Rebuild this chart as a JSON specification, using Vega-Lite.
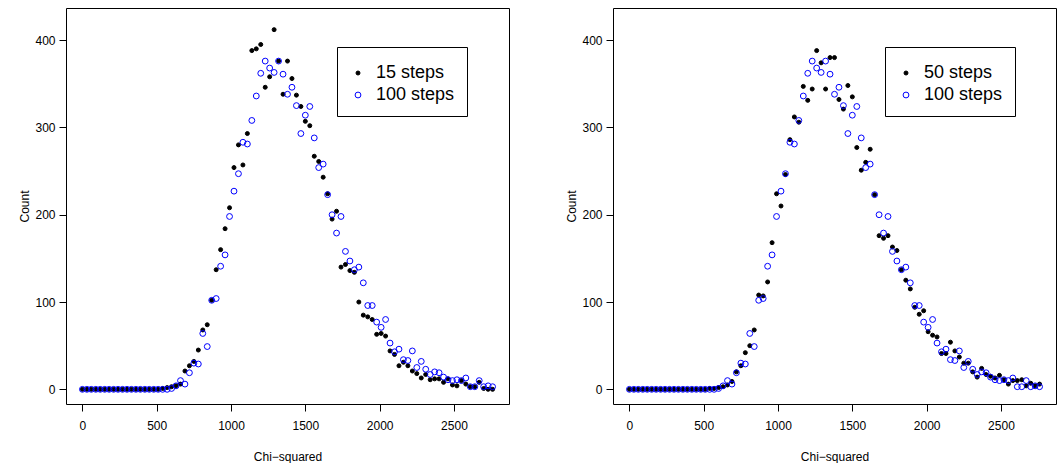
{
"$schema": "https://vega.github.io/schema/vega-lite/v6.json",
"background": "white",
"padding": {"left": 18, "top": 7, "right": 0, "bottom": 0},
"datasets": {
"left": [
{"x":0,"y":0,"s":"15 steps"},{"x":30,"y":0,"s":"15 steps"},{"x":60,"y":0,"s":"15 steps"},{"x":90,"y":0,"s":"15 steps"},{"x":120,"y":0,"s":"15 steps"},{"x":150,"y":0,"s":"15 steps"},{"x":180,"y":0,"s":"15 steps"},{"x":210,"y":0,"s":"15 steps"},{"x":240,"y":0,"s":"15 steps"},{"x":270,"y":0,"s":"15 steps"},{"x":300,"y":0,"s":"15 steps"},{"x":330,"y":0,"s":"15 steps"},{"x":360,"y":0,"s":"15 steps"},{"x":390,"y":0,"s":"15 steps"},{"x":420,"y":0,"s":"15 steps"},{"x":450,"y":0,"s":"15 steps"},{"x":480,"y":0,"s":"15 steps"},{"x":510,"y":0,"s":"15 steps"},{"x":540,"y":1,"s":"15 steps"},{"x":570,"y":2,"s":"15 steps"},{"x":600,"y":3,"s":"15 steps"},{"x":630,"y":4,"s":"15 steps"},{"x":660,"y":6,"s":"15 steps"},{"x":690,"y":21,"s":"15 steps"},{"x":720,"y":27,"s":"15 steps"},{"x":750,"y":32,"s":"15 steps"},{"x":780,"y":45,"s":"15 steps"},{"x":810,"y":68,"s":"15 steps"},{"x":840,"y":74,"s":"15 steps"},{"x":870,"y":102,"s":"15 steps"},{"x":900,"y":137,"s":"15 steps"},{"x":930,"y":160,"s":"15 steps"},{"x":960,"y":184,"s":"15 steps"},{"x":990,"y":208,"s":"15 steps"},{"x":1020,"y":254,"s":"15 steps"},{"x":1050,"y":280,"s":"15 steps"},{"x":1080,"y":257,"s":"15 steps"},{"x":1110,"y":293,"s":"15 steps"},{"x":1140,"y":388,"s":"15 steps"},{"x":1170,"y":390,"s":"15 steps"},{"x":1200,"y":395,"s":"15 steps"},{"x":1230,"y":346,"s":"15 steps"},{"x":1260,"y":358,"s":"15 steps"},{"x":1290,"y":412,"s":"15 steps"},{"x":1320,"y":376,"s":"15 steps"},{"x":1350,"y":338,"s":"15 steps"},{"x":1380,"y":376,"s":"15 steps"},{"x":1410,"y":356,"s":"15 steps"},{"x":1440,"y":337,"s":"15 steps"},{"x":1470,"y":324,"s":"15 steps"},{"x":1500,"y":307,"s":"15 steps"},{"x":1530,"y":302,"s":"15 steps"},{"x":1560,"y":267,"s":"15 steps"},{"x":1590,"y":261,"s":"15 steps"},{"x":1620,"y":243,"s":"15 steps"},{"x":1650,"y":224,"s":"15 steps"},{"x":1680,"y":195,"s":"15 steps"},{"x":1710,"y":204,"s":"15 steps"},{"x":1740,"y":140,"s":"15 steps"},{"x":1770,"y":143,"s":"15 steps"},{"x":1800,"y":136,"s":"15 steps"},{"x":1830,"y":134,"s":"15 steps"},{"x":1860,"y":100,"s":"15 steps"},{"x":1890,"y":85,"s":"15 steps"},{"x":1920,"y":83,"s":"15 steps"},{"x":1950,"y":80,"s":"15 steps"},{"x":1980,"y":63,"s":"15 steps"},{"x":2010,"y":64,"s":"15 steps"},{"x":2040,"y":61,"s":"15 steps"},{"x":2070,"y":44,"s":"15 steps"},{"x":2100,"y":40,"s":"15 steps"},{"x":2130,"y":27,"s":"15 steps"},{"x":2160,"y":31,"s":"15 steps"},{"x":2190,"y":27,"s":"15 steps"},{"x":2220,"y":21,"s":"15 steps"},{"x":2250,"y":18,"s":"15 steps"},{"x":2280,"y":13,"s":"15 steps"},{"x":2310,"y":17,"s":"15 steps"},{"x":2340,"y":11,"s":"15 steps"},{"x":2370,"y":12,"s":"15 steps"},{"x":2400,"y":12,"s":"15 steps"},{"x":2430,"y":8,"s":"15 steps"},{"x":2460,"y":12,"s":"15 steps"},{"x":2490,"y":5,"s":"15 steps"},{"x":2520,"y":4,"s":"15 steps"},{"x":2550,"y":10,"s":"15 steps"},{"x":2580,"y":6,"s":"15 steps"},{"x":2610,"y":3,"s":"15 steps"},{"x":2640,"y":3,"s":"15 steps"},{"x":2670,"y":8,"s":"15 steps"},{"x":2700,"y":1,"s":"15 steps"},{"x":2730,"y":0,"s":"15 steps"},{"x":2760,"y":0,"s":"15 steps"},
{"x":0,"y":0,"s":"100 steps"},{"x":30,"y":0,"s":"100 steps"},{"x":60,"y":0,"s":"100 steps"},{"x":90,"y":0,"s":"100 steps"},{"x":120,"y":0,"s":"100 steps"},{"x":150,"y":0,"s":"100 steps"},{"x":180,"y":0,"s":"100 steps"},{"x":210,"y":0,"s":"100 steps"},{"x":240,"y":0,"s":"100 steps"},{"x":270,"y":0,"s":"100 steps"},{"x":300,"y":0,"s":"100 steps"},{"x":330,"y":0,"s":"100 steps"},{"x":360,"y":0,"s":"100 steps"},{"x":390,"y":0,"s":"100 steps"},{"x":420,"y":0,"s":"100 steps"},{"x":450,"y":0,"s":"100 steps"},{"x":480,"y":0,"s":"100 steps"},{"x":510,"y":0,"s":"100 steps"},{"x":540,"y":0,"s":"100 steps"},{"x":570,"y":0,"s":"100 steps"},{"x":600,"y":1,"s":"100 steps"},{"x":630,"y":4,"s":"100 steps"},{"x":660,"y":10,"s":"100 steps"},{"x":690,"y":6,"s":"100 steps"},{"x":720,"y":19,"s":"100 steps"},{"x":750,"y":30,"s":"100 steps"},{"x":780,"y":29,"s":"100 steps"},{"x":810,"y":64,"s":"100 steps"},{"x":840,"y":49,"s":"100 steps"},{"x":870,"y":102,"s":"100 steps"},{"x":900,"y":104,"s":"100 steps"},{"x":930,"y":141,"s":"100 steps"},{"x":960,"y":154,"s":"100 steps"},{"x":990,"y":198,"s":"100 steps"},{"x":1020,"y":227,"s":"100 steps"},{"x":1050,"y":247,"s":"100 steps"},{"x":1080,"y":283,"s":"100 steps"},{"x":1110,"y":281,"s":"100 steps"},{"x":1140,"y":308,"s":"100 steps"},{"x":1170,"y":336,"s":"100 steps"},{"x":1200,"y":362,"s":"100 steps"},{"x":1230,"y":376,"s":"100 steps"},{"x":1260,"y":368,"s":"100 steps"},{"x":1290,"y":363,"s":"100 steps"},{"x":1320,"y":376,"s":"100 steps"},{"x":1350,"y":361,"s":"100 steps"},{"x":1380,"y":338,"s":"100 steps"},{"x":1410,"y":346,"s":"100 steps"},{"x":1440,"y":325,"s":"100 steps"},{"x":1470,"y":293,"s":"100 steps"},{"x":1500,"y":314,"s":"100 steps"},{"x":1530,"y":324,"s":"100 steps"},{"x":1560,"y":288,"s":"100 steps"},{"x":1590,"y":254,"s":"100 steps"},{"x":1620,"y":258,"s":"100 steps"},{"x":1650,"y":223,"s":"100 steps"},{"x":1680,"y":200,"s":"100 steps"},{"x":1710,"y":179,"s":"100 steps"},{"x":1740,"y":198,"s":"100 steps"},{"x":1770,"y":158,"s":"100 steps"},{"x":1800,"y":147,"s":"100 steps"},{"x":1830,"y":137,"s":"100 steps"},{"x":1860,"y":140,"s":"100 steps"},{"x":1890,"y":122,"s":"100 steps"},{"x":1920,"y":96,"s":"100 steps"},{"x":1950,"y":96,"s":"100 steps"},{"x":1980,"y":77,"s":"100 steps"},{"x":2010,"y":71,"s":"100 steps"},{"x":2040,"y":80,"s":"100 steps"},{"x":2070,"y":53,"s":"100 steps"},{"x":2100,"y":43,"s":"100 steps"},{"x":2130,"y":46,"s":"100 steps"},{"x":2160,"y":34,"s":"100 steps"},{"x":2190,"y":33,"s":"100 steps"},{"x":2220,"y":44,"s":"100 steps"},{"x":2250,"y":25,"s":"100 steps"},{"x":2280,"y":32,"s":"100 steps"},{"x":2310,"y":23,"s":"100 steps"},{"x":2340,"y":17,"s":"100 steps"},{"x":2370,"y":20,"s":"100 steps"},{"x":2400,"y":19,"s":"100 steps"},{"x":2430,"y":14,"s":"100 steps"},{"x":2460,"y":11,"s":"100 steps"},{"x":2490,"y":10,"s":"100 steps"},{"x":2520,"y":11,"s":"100 steps"},{"x":2550,"y":10,"s":"100 steps"},{"x":2580,"y":13,"s":"100 steps"},{"x":2610,"y":3,"s":"100 steps"},{"x":2640,"y":3,"s":"100 steps"},{"x":2670,"y":10,"s":"100 steps"},{"x":2700,"y":3,"s":"100 steps"},{"x":2730,"y":4,"s":"100 steps"},{"x":2760,"y":3,"s":"100 steps"}
],
"right": [
{"x":0,"y":0,"s":"50 steps"},{"x":30,"y":0,"s":"50 steps"},{"x":60,"y":0,"s":"50 steps"},{"x":90,"y":0,"s":"50 steps"},{"x":120,"y":0,"s":"50 steps"},{"x":150,"y":0,"s":"50 steps"},{"x":180,"y":0,"s":"50 steps"},{"x":210,"y":0,"s":"50 steps"},{"x":240,"y":0,"s":"50 steps"},{"x":270,"y":0,"s":"50 steps"},{"x":300,"y":0,"s":"50 steps"},{"x":330,"y":0,"s":"50 steps"},{"x":360,"y":0,"s":"50 steps"},{"x":390,"y":0,"s":"50 steps"},{"x":420,"y":0,"s":"50 steps"},{"x":450,"y":0,"s":"50 steps"},{"x":480,"y":0,"s":"50 steps"},{"x":510,"y":0,"s":"50 steps"},{"x":540,"y":1,"s":"50 steps"},{"x":570,"y":1,"s":"50 steps"},{"x":600,"y":2,"s":"50 steps"},{"x":630,"y":3,"s":"50 steps"},{"x":660,"y":5,"s":"50 steps"},{"x":690,"y":9,"s":"50 steps"},{"x":720,"y":20,"s":"50 steps"},{"x":750,"y":27,"s":"50 steps"},{"x":780,"y":42,"s":"50 steps"},{"x":810,"y":50,"s":"50 steps"},{"x":840,"y":68,"s":"50 steps"},{"x":870,"y":108,"s":"50 steps"},{"x":900,"y":107,"s":"50 steps"},{"x":930,"y":123,"s":"50 steps"},{"x":960,"y":168,"s":"50 steps"},{"x":990,"y":224,"s":"50 steps"},{"x":1020,"y":210,"s":"50 steps"},{"x":1050,"y":246,"s":"50 steps"},{"x":1080,"y":286,"s":"50 steps"},{"x":1110,"y":312,"s":"50 steps"},{"x":1140,"y":306,"s":"50 steps"},{"x":1170,"y":347,"s":"50 steps"},{"x":1200,"y":331,"s":"50 steps"},{"x":1230,"y":344,"s":"50 steps"},{"x":1260,"y":388,"s":"50 steps"},{"x":1290,"y":374,"s":"50 steps"},{"x":1320,"y":344,"s":"50 steps"},{"x":1350,"y":380,"s":"50 steps"},{"x":1380,"y":380,"s":"50 steps"},{"x":1410,"y":332,"s":"50 steps"},{"x":1440,"y":321,"s":"50 steps"},{"x":1470,"y":348,"s":"50 steps"},{"x":1500,"y":335,"s":"50 steps"},{"x":1530,"y":277,"s":"50 steps"},{"x":1560,"y":251,"s":"50 steps"},{"x":1590,"y":260,"s":"50 steps"},{"x":1620,"y":275,"s":"50 steps"},{"x":1650,"y":223,"s":"50 steps"},{"x":1680,"y":176,"s":"50 steps"},{"x":1710,"y":173,"s":"50 steps"},{"x":1740,"y":176,"s":"50 steps"},{"x":1770,"y":163,"s":"50 steps"},{"x":1800,"y":159,"s":"50 steps"},{"x":1830,"y":137,"s":"50 steps"},{"x":1860,"y":125,"s":"50 steps"},{"x":1890,"y":115,"s":"50 steps"},{"x":1920,"y":94,"s":"50 steps"},{"x":1950,"y":86,"s":"50 steps"},{"x":1980,"y":90,"s":"50 steps"},{"x":2010,"y":66,"s":"50 steps"},{"x":2040,"y":62,"s":"50 steps"},{"x":2070,"y":60,"s":"50 steps"},{"x":2100,"y":41,"s":"50 steps"},{"x":2130,"y":41,"s":"50 steps"},{"x":2160,"y":54,"s":"50 steps"},{"x":2190,"y":44,"s":"50 steps"},{"x":2220,"y":37,"s":"50 steps"},{"x":2250,"y":30,"s":"50 steps"},{"x":2280,"y":30,"s":"50 steps"},{"x":2310,"y":20,"s":"50 steps"},{"x":2340,"y":14,"s":"50 steps"},{"x":2370,"y":24,"s":"50 steps"},{"x":2400,"y":17,"s":"50 steps"},{"x":2430,"y":15,"s":"50 steps"},{"x":2460,"y":13,"s":"50 steps"},{"x":2490,"y":16,"s":"50 steps"},{"x":2520,"y":11,"s":"50 steps"},{"x":2550,"y":6,"s":"50 steps"},{"x":2580,"y":10,"s":"50 steps"},{"x":2610,"y":10,"s":"50 steps"},{"x":2640,"y":11,"s":"50 steps"},{"x":2670,"y":4,"s":"50 steps"},{"x":2700,"y":7,"s":"50 steps"},{"x":2730,"y":4,"s":"50 steps"},{"x":2760,"y":6,"s":"50 steps"},
{"x":0,"y":0,"s":"100 steps"},{"x":30,"y":0,"s":"100 steps"},{"x":60,"y":0,"s":"100 steps"},{"x":90,"y":0,"s":"100 steps"},{"x":120,"y":0,"s":"100 steps"},{"x":150,"y":0,"s":"100 steps"},{"x":180,"y":0,"s":"100 steps"},{"x":210,"y":0,"s":"100 steps"},{"x":240,"y":0,"s":"100 steps"},{"x":270,"y":0,"s":"100 steps"},{"x":300,"y":0,"s":"100 steps"},{"x":330,"y":0,"s":"100 steps"},{"x":360,"y":0,"s":"100 steps"},{"x":390,"y":0,"s":"100 steps"},{"x":420,"y":0,"s":"100 steps"},{"x":450,"y":0,"s":"100 steps"},{"x":480,"y":0,"s":"100 steps"},{"x":510,"y":0,"s":"100 steps"},{"x":540,"y":0,"s":"100 steps"},{"x":570,"y":0,"s":"100 steps"},{"x":600,"y":1,"s":"100 steps"},{"x":630,"y":4,"s":"100 steps"},{"x":660,"y":10,"s":"100 steps"},{"x":690,"y":6,"s":"100 steps"},{"x":720,"y":19,"s":"100 steps"},{"x":750,"y":30,"s":"100 steps"},{"x":780,"y":29,"s":"100 steps"},{"x":810,"y":64,"s":"100 steps"},{"x":840,"y":49,"s":"100 steps"},{"x":870,"y":102,"s":"100 steps"},{"x":900,"y":104,"s":"100 steps"},{"x":930,"y":141,"s":"100 steps"},{"x":960,"y":154,"s":"100 steps"},{"x":990,"y":198,"s":"100 steps"},{"x":1020,"y":227,"s":"100 steps"},{"x":1050,"y":247,"s":"100 steps"},{"x":1080,"y":283,"s":"100 steps"},{"x":1110,"y":281,"s":"100 steps"},{"x":1140,"y":308,"s":"100 steps"},{"x":1170,"y":336,"s":"100 steps"},{"x":1200,"y":362,"s":"100 steps"},{"x":1230,"y":376,"s":"100 steps"},{"x":1260,"y":368,"s":"100 steps"},{"x":1290,"y":363,"s":"100 steps"},{"x":1320,"y":376,"s":"100 steps"},{"x":1350,"y":361,"s":"100 steps"},{"x":1380,"y":338,"s":"100 steps"},{"x":1410,"y":346,"s":"100 steps"},{"x":1440,"y":325,"s":"100 steps"},{"x":1470,"y":293,"s":"100 steps"},{"x":1500,"y":314,"s":"100 steps"},{"x":1530,"y":324,"s":"100 steps"},{"x":1560,"y":288,"s":"100 steps"},{"x":1590,"y":254,"s":"100 steps"},{"x":1620,"y":258,"s":"100 steps"},{"x":1650,"y":223,"s":"100 steps"},{"x":1680,"y":200,"s":"100 steps"},{"x":1710,"y":179,"s":"100 steps"},{"x":1740,"y":198,"s":"100 steps"},{"x":1770,"y":158,"s":"100 steps"},{"x":1800,"y":147,"s":"100 steps"},{"x":1830,"y":137,"s":"100 steps"},{"x":1860,"y":140,"s":"100 steps"},{"x":1890,"y":122,"s":"100 steps"},{"x":1920,"y":96,"s":"100 steps"},{"x":1950,"y":96,"s":"100 steps"},{"x":1980,"y":77,"s":"100 steps"},{"x":2010,"y":71,"s":"100 steps"},{"x":2040,"y":80,"s":"100 steps"},{"x":2070,"y":53,"s":"100 steps"},{"x":2100,"y":43,"s":"100 steps"},{"x":2130,"y":46,"s":"100 steps"},{"x":2160,"y":34,"s":"100 steps"},{"x":2190,"y":33,"s":"100 steps"},{"x":2220,"y":44,"s":"100 steps"},{"x":2250,"y":25,"s":"100 steps"},{"x":2280,"y":32,"s":"100 steps"},{"x":2310,"y":23,"s":"100 steps"},{"x":2340,"y":17,"s":"100 steps"},{"x":2370,"y":20,"s":"100 steps"},{"x":2400,"y":19,"s":"100 steps"},{"x":2430,"y":14,"s":"100 steps"},{"x":2460,"y":11,"s":"100 steps"},{"x":2490,"y":10,"s":"100 steps"},{"x":2520,"y":11,"s":"100 steps"},{"x":2550,"y":10,"s":"100 steps"},{"x":2580,"y":13,"s":"100 steps"},{"x":2610,"y":3,"s":"100 steps"},{"x":2640,"y":3,"s":"100 steps"},{"x":2670,"y":10,"s":"100 steps"},{"x":2700,"y":3,"s":"100 steps"},{"x":2730,"y":4,"s":"100 steps"},{"x":2760,"y":3,"s":"100 steps"}
]
},
"spacing": 104,
"bounds": "flush",
"resolve": {"scale": {"color": "independent", "fill": "independent", "size": "independent"}, "legend": {"color": "independent", "fill": "independent", "size": "independent"}},
"hconcat": [
{
"width": 443, "height": 396,
"data": {"name": "left"},
"mark": {"type": "point", "filled": false, "strokeWidth": 1, "opacity": 1},
"encoding": {
"x": {"field": "x", "type": "quantitative", "scale": {"domain": [-110.4, 2870.4], "nice": false, "zero": false}, "axis": {"values": [0, 500, 1000, 1500, 2000, 2500], "format": "d", "title": "Chi\u2212squared"}},
"y": {"field": "y", "type": "quantitative", "scale": {"domain": [-16.8, 436.8], "nice": false, "zero": false}, "axis": {"values": [0, 100, 200, 300, 400], "format": "d", "title": "Count"}},
"color": {"field": "s", "type": "nominal", "scale": {"domain": ["15 steps", "100 steps"], "range": ["#000000", "#0000ff"]}, "legend": {"title": " ", "orient": "none", "legendX": 271, "legendY": 39}},
"fill": {"field": "s", "type": "nominal", "scale": {"domain": ["15 steps", "100 steps"], "range": ["#000000", "transparent"]}, "legend": {"title": " ", "orient": "none", "legendX": 271, "legendY": 39}},
"size": {"field": "s", "type": "nominal", "scale": {"domain": ["15 steps", "100 steps"], "range": [16, 34]}, "legend": {"title": " ", "orient": "none", "legendX": 271, "legendY": 39}}
}
},
{
"width": 443, "height": 396,
"data": {"name": "right"},
"mark": {"type": "point", "filled": false, "strokeWidth": 1, "opacity": 1},
"encoding": {
"x": {"field": "x", "type": "quantitative", "scale": {"domain": [-110.4, 2870.4], "nice": false, "zero": false}, "axis": {"values": [0, 500, 1000, 1500, 2000, 2500], "format": "d", "title": "Chi\u2212squared"}},
"y": {"field": "y", "type": "quantitative", "scale": {"domain": [-16.8, 436.8], "nice": false, "zero": false}, "axis": {"values": [0, 100, 200, 300, 400], "format": "d", "title": "Count"}},
"color": {"field": "s", "type": "nominal", "scale": {"domain": ["50 steps", "100 steps"], "range": ["#000000", "#0000ff"]}, "legend": {"title": " ", "orient": "none", "legendX": 272, "legendY": 39}},
"fill": {"field": "s", "type": "nominal", "scale": {"domain": ["50 steps", "100 steps"], "range": ["#000000", "transparent"]}, "legend": {"title": " ", "orient": "none", "legendX": 272, "legendY": 39}},
"size": {"field": "s", "type": "nominal", "scale": {"domain": ["50 steps", "100 steps"], "range": [16, 34]}, "legend": {"title": " ", "orient": "none", "legendX": 272, "legendY": 39}}
}
}
],
"config": {
"view": {"stroke": "#000000", "strokeWidth": 1},
"font": "Liberation Sans",
"axis": {"domain": false, "grid": false, "ticks": true, "tickColor": "#000000", "tickSize": 7, "tickWidth": 1, "labelFont": "Liberation Sans", "labelFontSize": 12, "labelColor": "#000000", "labelFlush": false, "labelOverlap": false, "titleFont": "Liberation Sans", "titleFontSize": 12, "titleFontWeight": "normal", "titleColor": "#000000"},
"axisX": {"labelPadding": 9, "titlePadding": 20},
"axisY": {"labelPadding": 4, "titlePadding": 3},
"legend": {"strokeColor": "#000000", "strokeWidth": 1, "fillColor": "white", "padding": 12, "labelFont": "Liberation Sans", "labelFontSize": 18, "labelColor": "#000000", "labelOffset": 9, "rowPadding": 4, "symbolStrokeWidth": 1, "cornerRadius": 0, "titleFontSize": 4, "titlePadding": 1}
}
}
